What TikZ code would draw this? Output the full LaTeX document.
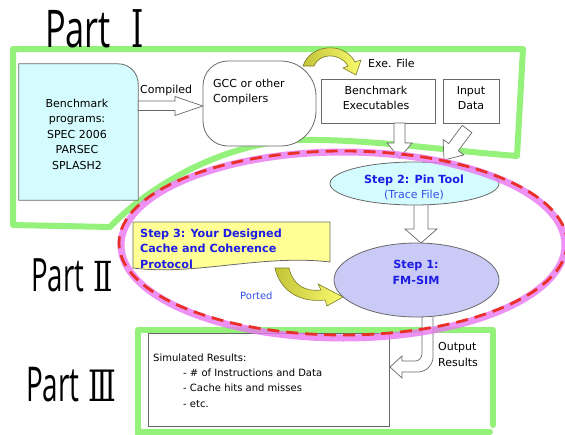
\documentclass[tikz,border=0pt]{standalone}
\usepackage{fontspec}
\usepackage{graphicx}
\setmainfont{DejaVu Sans}
\newfontfamily\handfont{Open Sans}
\newfontfamily\numfont{DejaVu Serif}
\usetikzlibrary{shapes.geometric,calc}

\definecolor{hlgreen}{RGB}{148,242,122}
\definecolor{hlpink}{RGB}{234,118,242}
\definecolor{hlred}{RGB}{232,48,40}
\definecolor{cyanfill}{RGB}{212,251,253}
\definecolor{lavfill}{RGB}{202,202,246}
\definecolor{notefill}{RGB}{255,255,150}
\definecolor{stepblue}{RGB}{28,28,228}
\definecolor{softblue}{RGB}{50,80,235}
\definecolor{edgegray}{RGB}{105,105,105}
\definecolor{curldark}{RGB}{196,196,56}
\definecolor{curllight}{RGB}{250,250,110}
\definecolor{curledge}{RGB}{120,120,40}

\begin{document}
\begin{tikzpicture}[x=1pt,y=-1pt,
  outline/.style={draw=edgegray, line width=0.8pt},
  label/.style={font=\fontsize{11}{15.5}\selectfont, inner sep=0pt, align=center},
  boldlabel/.style={font=\fontsize{11.2}{15.5}\selectfont\bfseries, text=stepblue, inner sep=0pt, align=center},
  hollow/.style={draw=edgegray, fill=white, line width=0.7pt, line join=miter},
  curl/.style={draw=curledge, line width=0.6pt, left color=curldark, right color=curllight},
  partmark/.style={inner sep=0pt, anchor=base west},
  hlgreenline/.style={hlgreen, line width=6pt, line cap=round, line join=round},
]
\useasboundingbox (0,0) rectangle (565,434);

% ---------- Part I frame ----------
\draw[hlgreenline] (13,225) -- (13,49) -- (523,49) -- (517,156)
  .. controls (440,150) and (370,139) .. (300,140)
  .. controls (225,142) and (150,185) .. (110,227) -- cycle;

% ---------- Part III frame ----------
\draw[hlgreenline] (138,434) -- (138,330) -- (493,330) -- (493,425);
\draw[hlgreenline] (138,432) -- (490,432);

% ---------- Benchmark programs ----------
\node (bench) [minimum width=119pt, minimum height=136pt, inner sep=0pt] at (78.5,132) {};
\draw[outline, fill=cyanfill] (bench.south west) -- (bench.north west)
  -- ($(bench.north east)+(-20,0)$)
  .. controls ($(bench.north east)+(-9,0)$) and ($(bench.north east)+(0,9)$) .. ($(bench.north east)+(0,20)$)
  -- (bench.south east) -- cycle;
\node[label] at (77,134) {Benchmark\\programs:\\SPEC 2006\\PARSEC\\SPLASH2};

% ---------- Compiler ----------
\node (gcc) [minimum width=113pt, minimum height=85pt, inner sep=0pt] at (259.5,103.5) {};
\draw[outline, fill=white] (228,61) -- (281,61)
  .. controls (300,61) and (316,77) .. (316,96) -- (316,111)
  .. controls (316,130) and (300,146) .. (281,146) -- (228,146)
  .. controls (214,146) and (203,135) .. (203,121) -- (203,86)
  .. controls (203,72) and (214,61) .. (228,61) -- cycle;
\node[label, align=left, anchor=west] at (213,92) {GCC or other\\Compilers};

% Compiled arrow
\draw[hollow] (bench.east |- 0,101) -- (175,101) -- (175,96.5) -- (gcc.west |- 0,106)
  -- (175,115.5) -- (175,110.5) -- (bench.east |- 0,110.5) -- cycle;
\node (compiledlbl) [label, anchor=west] at (140,90) {Compiled};

% ---------- Executables and input ----------
\node (exe) [outline, minimum width=114pt, minimum height=44pt, inner sep=0pt] at (378,101) {};
\node[label] at (376,98) {Benchmark\\Executables};
\node (input) [outline, minimum width=56pt, minimum height=44pt, inner sep=0pt] at (471,101) {};
\node[label] at (471,98) {Input\\Data};

% Exe. File curl
\draw[curl] (303,66) .. controls (310,44) and (344,41) .. (355,62)
  -- (361,60) -- (356,75) -- (343,68) -- (348,66)
  .. controls (340,52) and (319,53) .. (314,66) -- cycle;
\node (exelbl) [label, anchor=west] at (368,63) {Exe. File};

% ---------- Step 2 ----------
\draw[hollow] (394,123) -- (405,123) -- (405,143) -- (412,143) -- (399.5,158)
  -- (387,143) -- (394,143) -- cycle;
\draw[hollow] (462.2,125.4) -- (471.8,132.6) -- (458.3,150.8) -- (463.9,154.9)
  -- (444,160) -- (443.1,139.5) -- (448.7,143.6) -- cycle;
\draw[hollow] (414,200) -- (428,200) -- (428,229) -- (437,229) -- (421,243)
  -- (405,229) -- (414,229) -- cycle;
% Output Results arrow
\draw[hollow] (422,310) -- (422,353) .. controls (422,358) and (419,361) .. (415,361)
  -- (402,361) -- (402,356) -- (390,367) -- (402,378) -- (402,372) -- (418,372)
  .. controls (426,372) and (433,365) .. (433,357) -- (433,310) -- cycle;

\node (step2) [ellipse, outline, fill=cyanfill, minimum width=169pt, minimum height=43pt, inner sep=0pt] at (414.5,183.5) {};
\node[boldlabel] at (414,180) {Step 2: Pin Tool};
\node[label, text=softblue] at (414,195.5) {(Trace File)};

% ---------- Step 1 ----------
\node (step1) [ellipse, outline, fill=lavfill, minimum width=165pt, minimum height=74pt, inner sep=0pt] at (416.5,280) {};
\node[boldlabel] at (416,272.5) {Step 1:\\FM-SIM};

% ---------- Step 3 note ----------
\draw[outline, fill=notefill] (133,222) -- (330,222) -- (330,262)
  .. controls (262,254) and (195,276) .. (133,268) -- cycle;
\node (step3) [boldlabel, align=left, anchor=west] at (140,248.5) {Step 3: Your Designed\\Cache and Coherence\\Protocol};

% Ported curl
\draw[curl] (275,268) .. controls (280,291) and (300,303) .. (325,300)
  -- (327,306) -- (343,297) -- (318,284) -- (321,290)
  .. controls (305,292) and (293,285) .. (289,268) -- cycle;
\node (portedlbl) [label, text=softblue, font=\fontsize{10}{12}\selectfont, anchor=west] at (240,296) {Ported};

% ---------- Results ----------
\node (results) [outline, minimum width=241pt, minimum height=93pt, inner sep=0pt] at (268.5,379.5) {};
\node[label, align=left, anchor=west, font=\fontsize{10}{15.2}\selectfont] at (153,380.5)
  {Simulated Results:\\\hspace*{30pt}- \# of Instructions and Data\\\hspace*{30pt}- Cache hits and misses\\\hspace*{30pt}- etc.};
\node (outlbl) [label, align=left, anchor=west] at (438,354.5) {Output\\Results};

% ---------- Part II outline ----------
\draw[hlpink, line width=7pt, opacity=0.8] (343,245) ellipse [x radius=222, y radius=93];
\draw[hlred, line width=2.8pt, dash pattern=on 12pt off 7pt] (343,243) ellipse [x radius=224, y radius=92];

% ---------- Part marks ----------
\node (part1) [partmark, font=\fontsize{52}{52}\selectfont] at (45,47)
  {\scalebox{0.66}[1]{\handfont Part}\hspace{20pt}\scalebox{0.6}[1]{\numfont Ⅰ}};
\node (part2) [partmark, font=\fontsize{46}{46}\selectfont] at (31,291)
  {\scalebox{0.6}[1]{\handfont Part}\hspace{9pt}\scalebox{0.62}[0.9]{\numfont Ⅱ}};
\node (part3) [partmark, font=\fontsize{48}{48}\selectfont] at (26,401)
  {\scalebox{0.58}[1]{\handfont Part}\hspace{9pt}\scalebox{0.6}[0.9]{\numfont Ⅲ}};
\end{tikzpicture}
\end{document}
